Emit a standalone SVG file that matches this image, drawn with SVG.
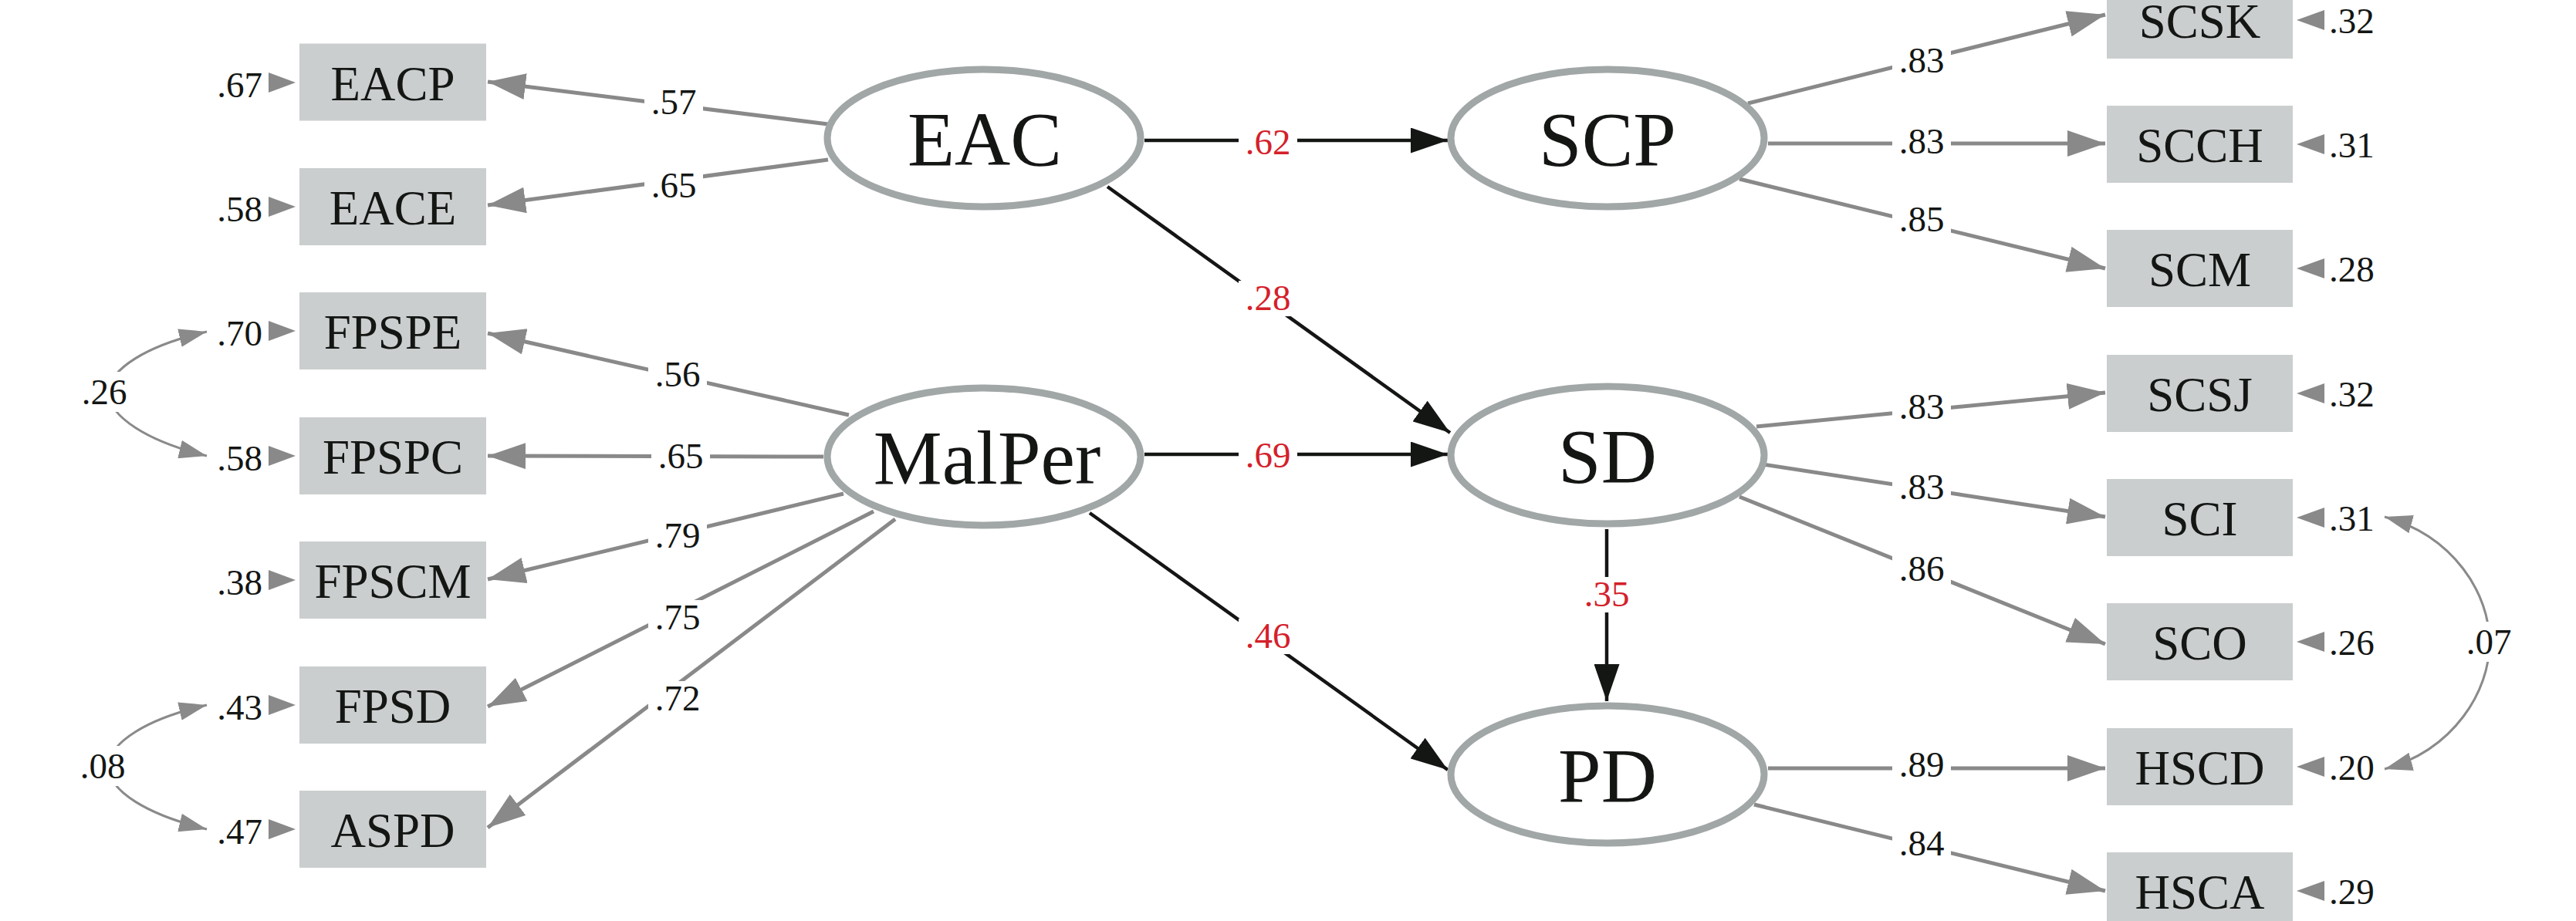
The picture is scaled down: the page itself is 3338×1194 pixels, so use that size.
<svg xmlns="http://www.w3.org/2000/svg" width="3338" height="1194" viewBox="0 0 3338 1194">
<style>
text{font-family:"Liberation Serif","Times New Roman",serif;fill:#141614}
.box{fill:#cbcecf}
.bt{font-size:63px;text-anchor:middle}
.lat{fill:#fff;stroke:#a1a6a6;stroke-width:9}
.lt{font-size:100px;text-anchor:middle}
.num{font-size:47px}
.mid{text-anchor:middle}
.end{text-anchor:end}
.red{fill:#d4202a}
.ld{stroke:#898989;stroke-width:5;fill:none;marker-end:url(#ag)}
.pa{stroke:#141614;stroke-width:4.5;fill:none;marker-end:url(#ab)}
.cv{stroke:#8a8a8a;stroke-width:3;fill:none;marker-start:url(#ac);marker-end:url(#ac)}
.gap{fill:#fff}
.res{fill:#898989}
</style>
<defs>
<marker id="ag" markerUnits="userSpaceOnUse" markerWidth="49" markerHeight="34" refX="49" refY="17" orient="auto"><path d="M0,0 L49,17 L0,34 z" fill="#898989"/></marker>
<marker id="ab" markerUnits="userSpaceOnUse" markerWidth="48" markerHeight="33" refX="48" refY="16.5" orient="auto"><path d="M0,0 L48,16.5 L0,33 z" fill="#141614"/></marker>
<marker id="ac" markerUnits="userSpaceOnUse" markerWidth="36" markerHeight="24" refX="36" refY="12" orient="auto-start-reverse"><path d="M0,0 L36,12 L0,24 z" fill="#8a8a8a"/></marker>
</defs>
<rect width="3338" height="1194" fill="#fff"/>

<g id="connectors">
<line class="ld" x1="1073" y1="161" x2="632" y2="106"/>
<line class="ld" x1="1073" y1="207" x2="632" y2="266"/>
<line class="ld" x1="1100" y1="538" x2="632" y2="432"/>
<line class="ld" x1="1067" y1="592" x2="632" y2="591"/>
<line class="ld" x1="1093" y1="640" x2="632" y2="751"/>
<line class="ld" x1="1132" y1="663" x2="632" y2="916"/>
<line class="ld" x1="1160" y1="673" x2="632" y2="1073"/>
<line class="ld" x1="2265" y1="134" x2="2728" y2="19"/>
<line class="ld" x1="2291" y1="186" x2="2728" y2="186"/>
<line class="ld" x1="2254" y1="232" x2="2728" y2="348"/>
<line class="ld" x1="2276" y1="553" x2="2728" y2="509"/>
<line class="ld" x1="2284" y1="602" x2="2728" y2="670"/>
<line class="ld" x1="2254" y1="644" x2="2728" y2="835"/>
<line class="ld" x1="2291" y1="996" x2="2728" y2="996"/>
<line class="ld" x1="2273" y1="1043" x2="2728" y2="1155"/>
<line class="pa" x1="1483" y1="182" x2="1876" y2="182"/>
<line class="pa" x1="1435" y1="242" x2="1879" y2="561"/>
<line class="pa" x1="1483" y1="589" x2="1876" y2="589"/>
<line class="pa" x1="1412" y1="665" x2="1876" y2="998"/>
<line class="pa" x1="2082" y1="686" x2="2082" y2="909"/>
<path class="cv" d="M268 430 C190 448,142 478,140 509 C142 540,190 572,268 591"/>
<path class="cv" d="M268 914 C190 932,142 962,140 994 C142 1026,190 1056,268 1075"/>
<path class="cv" d="M3090 670 C3180 695,3226 770,3226 833 C3226 896,3180 972,3090 997"/>
<g id="residual-arrows">
<polygon class="res" points="348,94 383,107 348,120"/>
<polygon class="res" points="348,255 383,268 348,281"/>
<polygon class="res" points="348,416 383,429 348,442"/>
<polygon class="res" points="348,578 383,591 348,604"/>
<polygon class="res" points="348,739 383,752 348,765"/>
<polygon class="res" points="348,901 383,914 348,927"/>
<polygon class="res" points="348,1062 383,1075 348,1088"/>
<polygon class="res" points="3012,13 2976,26 3012,39"/>
<polygon class="res" points="3012,174 2976,187 3012,200"/>
<polygon class="res" points="3012,335 2976,348 3012,361"/>
<polygon class="res" points="3012,497 2976,510 3012,523"/>
<polygon class="res" points="3012,658 2976,671 3012,684"/>
<polygon class="res" points="3012,819 2976,832 3012,845"/>
<polygon class="res" points="3012,981 2976,994 3012,1007"/>
<polygon class="res" points="3012,1142 2976,1155 3012,1168"/>
</g>
<g id="edge-labels">
<rect class="gap" x="835" y="110" width="76" height="46"/><text class="num mid" x="873" y="148">.57</text>
<rect class="gap" x="835" y="218" width="76" height="46"/><text class="num mid" x="873" y="256">.65</text>
<rect class="gap" x="840" y="463" width="76" height="46"/><text class="num mid" x="878" y="501">.56</text>
<rect class="gap" x="844" y="569" width="76" height="46"/><text class="num mid" x="882" y="607">.65</text>
<rect class="gap" x="840" y="672" width="76" height="46"/><text class="num mid" x="878" y="710">.79</text>
<rect class="gap" x="840" y="778" width="76" height="46"/><text class="num mid" x="878" y="816">.75</text>
<rect class="gap" x="840" y="883" width="76" height="46"/><text class="num mid" x="878" y="921">.72</text>
<rect class="gap" x="2452" y="56" width="76" height="46"/><text class="num mid" x="2490" y="94">.83</text>
<rect class="gap" x="2452" y="161" width="76" height="46"/><text class="num mid" x="2490" y="199">.83</text>
<rect class="gap" x="2452" y="262" width="76" height="46"/><text class="num mid" x="2490" y="300">.85</text>
<rect class="gap" x="2452" y="505" width="76" height="46"/><text class="num mid" x="2490" y="543">.83</text>
<rect class="gap" x="2452" y="609" width="76" height="46"/><text class="num mid" x="2490" y="647">.83</text>
<rect class="gap" x="2452" y="715" width="76" height="46"/><text class="num mid" x="2490" y="753">.86</text>
<rect class="gap" x="2452" y="969" width="76" height="46"/><text class="num mid" x="2490" y="1007">.89</text>
<rect class="gap" x="2452" y="1071" width="76" height="46"/><text class="num mid" x="2490" y="1109">.84</text>
<rect class="gap" x="1605" y="162" width="76" height="46"/><text class="num mid red" x="1643" y="200">.62</text>
<rect class="gap" x="1605" y="364" width="76" height="46"/><text class="num mid red" x="1643" y="402">.28</text>
<rect class="gap" x="1605" y="568" width="76" height="46"/><text class="num mid red" x="1643" y="606">.69</text>
<rect class="gap" x="1605" y="802" width="76" height="46"/><text class="num mid red" x="1643" y="840">.46</text>
<rect class="gap" x="2044" y="748" width="76" height="46"/><text class="num mid red" x="2082" y="786">.35</text>
<rect class="gap" x="100" y="482" width="70" height="52"/><text class="num mid" x="135" y="524">.26</text>
<rect class="gap" x="98" y="967" width="70" height="52"/><text class="num mid" x="133" y="1009">.08</text>
<rect class="gap" x="3190" y="806" width="70" height="52"/><text class="num mid" x="3225" y="848">.07</text>
</g>
<g id="residual-labels">
<text class="num end" x="340" y="126">.67</text>
<text class="num end" x="340" y="287">.58</text>
<text class="num end" x="340" y="448">.70</text>
<text class="num end" x="340" y="610">.58</text>
<text class="num end" x="340" y="771">.38</text>
<text class="num end" x="340" y="933">.43</text>
<text class="num end" x="340" y="1094">.47</text>
<text class="num" x="3018" y="43">.32</text>
<text class="num" x="3018" y="204">.31</text>
<text class="num" x="3018" y="365">.28</text>
<text class="num" x="3018" y="527">.32</text>
<text class="num" x="3018" y="688">.31</text>
<text class="num" x="3018" y="849">.26</text>
<text class="num" x="3018" y="1011">.20</text>
<text class="num" x="3018" y="1172">.29</text>
</g>
</g>

<g id="EACP"><rect class="box" x="388" y="56.5" width="242" height="100"/><text class="bt" x="509" y="129.5">EACP</text></g>
<g id="EACE"><rect class="box" x="388" y="218" width="242" height="100"/><text class="bt" x="509" y="291">EACE</text></g>
<g id="FPSPE"><rect class="box" x="388" y="379" width="242" height="100"/><text class="bt" x="509" y="452">FPSPE</text></g>
<g id="FPSPC"><rect class="box" x="388" y="541" width="242" height="100"/><text class="bt" x="509" y="614">FPSPC</text></g>
<g id="FPSCM"><rect class="box" x="388" y="702" width="242" height="100"/><text class="bt" x="509" y="775">FPSCM</text></g>
<g id="FPSD"><rect class="box" x="388" y="864" width="242" height="100"/><text class="bt" x="509" y="937">FPSD</text></g>
<g id="ASPD"><rect class="box" x="388" y="1025" width="242" height="100"/><text class="bt" x="509" y="1098">ASPD</text></g>

<g id="SCSK"><rect class="box" x="2730" y="-24" width="241" height="100"/><text class="bt" x="2850.5" y="49">SCSK</text></g>
<g id="SCCH"><rect class="box" x="2730" y="137" width="241" height="100"/><text class="bt" x="2850.5" y="210">SCCH</text></g>
<g id="SCM"><rect class="box" x="2730" y="298" width="241" height="100"/><text class="bt" x="2850.5" y="371">SCM</text></g>
<g id="SCSJ"><rect class="box" x="2730" y="460" width="241" height="100"/><text class="bt" x="2850.5" y="533">SCSJ</text></g>
<g id="SCI"><rect class="box" x="2730" y="621" width="241" height="100"/><text class="bt" x="2850.5" y="694">SCI</text></g>
<g id="SCO"><rect class="box" x="2730" y="782" width="241" height="100"/><text class="bt" x="2850.5" y="855">SCO</text></g>
<g id="HSCD"><rect class="box" x="2730" y="944" width="241" height="100"/><text class="bt" x="2850.5" y="1017">HSCD</text></g>
<g id="HSCA"><rect class="box" x="2730" y="1105" width="241" height="100"/><text class="bt" x="2850.5" y="1178">HSCA</text></g>

<g id="EAC"><ellipse class="lat" cx="1275" cy="179" rx="203" ry="89"/><text class="lt" x="1276" y="214">EAC</text></g>
<g id="MalPer"><ellipse class="lat" cx="1275" cy="592" rx="203" ry="89"/><text class="lt" x="1279" y="627">MalPer</text></g>
<g id="SCP"><ellipse class="lat" cx="2083" cy="179" rx="203" ry="89"/><text class="lt" x="2083" y="214">SCP</text></g>
<g id="SD"><ellipse class="lat" cx="2083" cy="590" rx="203" ry="89"/><text class="lt" x="2083" y="625">SD</text></g>
<g id="PD"><ellipse class="lat" cx="2083" cy="1004" rx="203" ry="89"/><text class="lt" x="2083" y="1039">PD</text></g>
</svg>
